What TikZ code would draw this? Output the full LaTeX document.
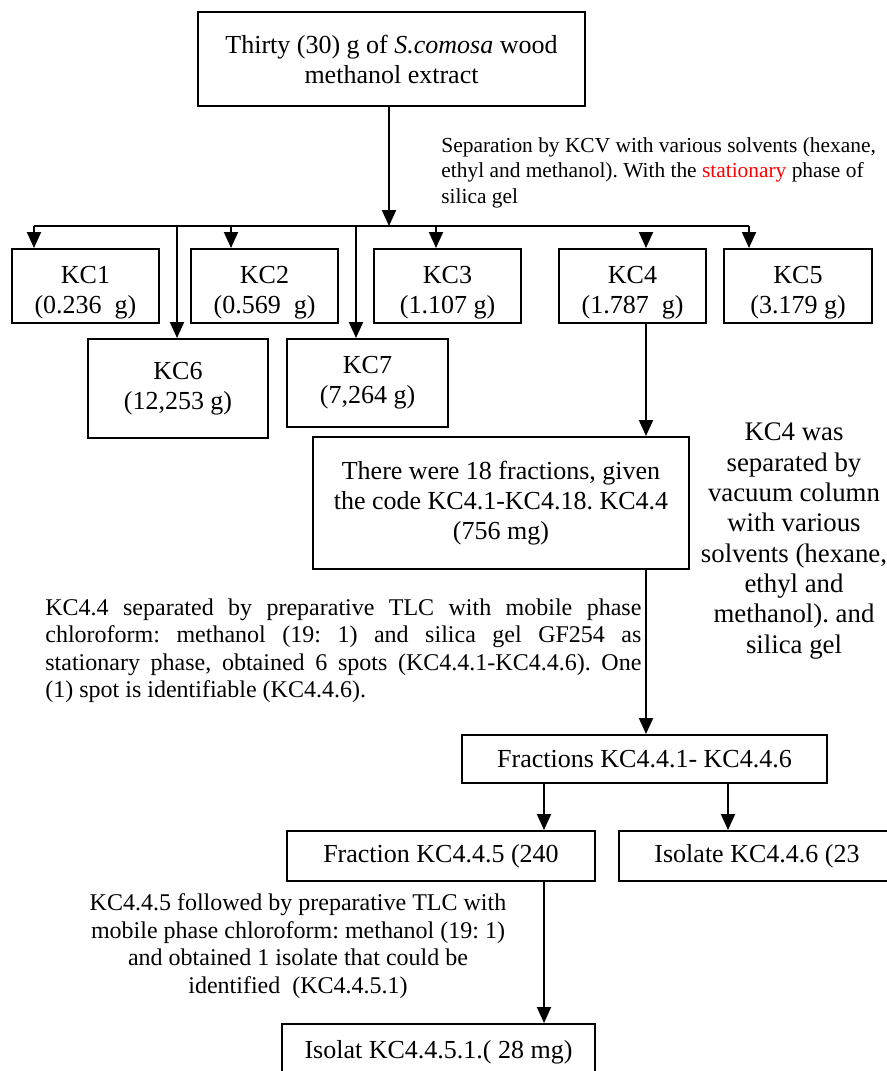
\documentclass[tikz,border=0pt]{standalone}
\usepackage{fontspec}
\setmainfont{Liberation Serif}
\usetikzlibrary{arrows.meta, calc}
\frenchspacing
\tikzset{box/.style = {draw, line width=1pt, inner sep=0pt, align=center, font=\fontsize{13}{15}\selectfont}}
\tikzset{arr/.style = {line width=1pt, -{Triangle[length=8pt, width=7pt]}}}
\tikzset{note/.style = {inner sep=0pt, font=\fontsize{12}{13.8}\selectfont}}

\begin{document}
\begin{tikzpicture}[x=0.5pt, y=-0.5pt]
    \useasboundingbox (0,0) rectangle (887,1071);
    \clip (0,0) rectangle (887,1071);
    \node[box, minimum width=193.5pt, minimum height=47pt] (top) at (391.5,59) {Thirty (30) g of \textit{S.comosa} wood\\methanol extract};
    \node[box, minimum width=73.5pt, minimum height=37pt] (kc1) at (85.5,286) {\rule{0pt}{15pt}KC1\\(0.236\ \ g)};
    \node[box, minimum width=73.5pt, minimum height=37pt] (kc2) at (264.5,286) {\rule{0pt}{15pt}KC2\\(0.569\ \ g)};
    \node[box, minimum width=73.5pt, minimum height=37pt] (kc3) at (447.5,286) {\rule{0pt}{15pt}KC3\\(1.107 g)};
    \node[box, minimum width=73.5pt, minimum height=37pt] (kc4) at (632.5,286) {\rule{0pt}{15pt}KC4\\(1.787\ \ g)};
    \node[box, minimum width=74pt, minimum height=37pt] (kc5) at (798,286) {\rule{0pt}{15pt}KC5\\(3.179 g)};
    \node[box, minimum width=90pt, minimum height=49.5pt] (kc6) at (178,388.5) {KC6\\(12,253 g)};
    \node[box, minimum width=80.5pt, minimum height=44pt] (kc7) at (367.5,383) {KC7\\(7,264 g)};
    \node[box, minimum width=188pt, minimum height=66pt] (frac) at (501,503) {There were 18 fractions, given\\the code KC4.1-KC4.18. KC4.4\\(756 mg)};
    \node[box, minimum width=182.5pt, minimum height=24pt] (fracs) at (644.5,759) {Fractions KC4.4.1- KC4.4.6};
    \node[box, minimum width=154pt, minimum height=25pt] (f445) at (441,856) {Fraction KC4.4.5 (240};
    \node[box, minimum width=138pt, minimum height=25pt] (iso) at (757,856) {Isolate KC4.4.6 (23};
    \node[box, minimum width=156.5pt, minimum height=28pt] (isolat) at (438.5,1052) {Isolat KC4.4.5.1.( 28 mg)};

    \node[note, anchor=north west, align=left, font=\fontsize{10.7}{12.75}\selectfont] (kcv) at (441,137) {Separation by KCV with various solvents (hexane,\\ethyl and methanol). With the \textcolor{red}{stationary} phase of\\silica gel};
    \node[note, align=center, font=\fontsize{13.4}{15.15}\selectfont] (vac) at (794,541) {KC4 was\\separated by\\vacuum column\\with various\\solvents (hexane,\\ethyl and\\methanol). and\\silica gel};
    \node[note, anchor=north west, text width=298pt, align=justify] (tlc) at (45,598) {KC4.4 separated by preparative TLC with mobile phase\linebreak chloroform: methanol (19: 1) and silica gel GF254 as\linebreak stationary phase, obtained 6 spots (KC4.4.1-KC4.4.6). One\linebreak (1) spot is identifiable (KC4.4.6).};
    \node[note, align=center] (tlc2) at (298,946) {KC4.4.5 followed by preparative TLC with\\mobile phase chloroform: methanol (19: 1)\\and obtained 1 isolate that could be\\identified\ \ (KC4.4.5.1)};

    \coordinate (b0) at (389,226);
    \coordinate (b1) at (34,226);
    \coordinate (b2) at (231,226);
    \coordinate (b3) at (436,226);
    \coordinate (b4) at (646,232);
    \coordinate (b5) at (749,226);
    \coordinate (b6) at (177,226);
    \coordinate (b7) at (356,226);
    \coordinate (s1) at (544,783);
    \coordinate (s2) at (728,783);

    \draw[arr] (b0 |- top.south) -- (b0);
    \draw[line width=1pt] (b1) -- (b5);
    \draw[arr] (b1) -- (b1 |- kc1.north);
    \draw[arr] (b2) -- (b2 |- kc2.north);
    \draw[arr] (b3) -- (b3 |- kc3.north);
    \draw[arr] (b4) -- (b4 |- kc4.north);
    \draw[arr] (b5) -- (b5 |- kc5.north);
    \draw[arr] (b6) -- (b6 |- kc6.north);
    \draw[arr] (b7) -- (b7 |- kc7.north);
    \draw[arr] (b4 |- kc4.south) -- (b4 |- frac.north);
    \draw[arr] (b4 |- frac.south) -- (b4 |- fracs.north);
    \draw[arr] (fracs.south -| s1) -- (f445.north -| s1);
    \draw[arr] (fracs.south -| s2) -- (iso.north -| s2);
    \draw[arr] (f445.south -| s1) -- (isolat.north -| s1);
\end{tikzpicture}
\end{document}
